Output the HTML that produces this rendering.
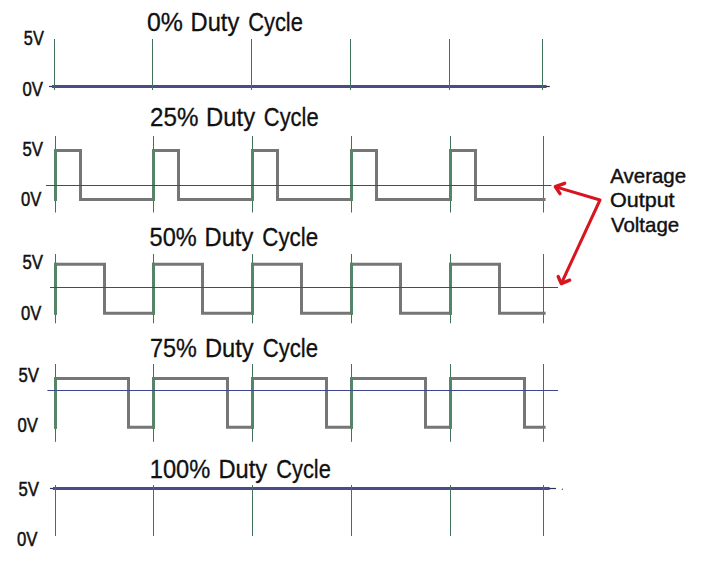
<!DOCTYPE html>
<html><head><meta charset="utf-8"><title>PWM Duty Cycle</title>
<style>
html,body{margin:0;padding:0;background:#fff;}
body{width:704px;height:564px;overflow:hidden;}
svg{display:block;}
text{font-family:"Liberation Sans", sans-serif;fill:#111;stroke:#111;}
</style></head>
<body>
<svg width="704" height="564" viewBox="0 0 704 564">
<rect width="704" height="564" fill="#fff"/>
<line x1="49" y1="86.5" x2="53" y2="86.5" stroke="#2e2f55" stroke-width="1.2" />
<line x1="52" y1="86.5" x2="546.5" y2="86.5" stroke="#494c8c" stroke-width="3" />
<line x1="546" y1="86.5" x2="549.8" y2="86.5" stroke="#2e2f55" stroke-width="1.2" />
<line x1="54.5" y1="39" x2="54.5" y2="90" stroke="#41725a" stroke-width="1" />
<line x1="152.5" y1="39" x2="152.5" y2="90" stroke="#41725a" stroke-width="1" />
<line x1="251.5" y1="39" x2="251.5" y2="90" stroke="#41725a" stroke-width="1" />
<line x1="350.5" y1="39" x2="350.5" y2="90" stroke="#41725a" stroke-width="1" />
<line x1="449.5" y1="39" x2="449.5" y2="90" stroke="#41725a" stroke-width="1" />
<line x1="542.5" y1="39" x2="542.5" y2="90" stroke="#41725a" stroke-width="1" />
<line x1="55.5" y1="136" x2="55.5" y2="212.5" stroke="#41725a" stroke-width="1" />
<line x1="153.5" y1="136" x2="153.5" y2="212.5" stroke="#41725a" stroke-width="1" />
<line x1="252.5" y1="136" x2="252.5" y2="212.5" stroke="#41725a" stroke-width="1" />
<line x1="351.5" y1="136" x2="351.5" y2="212.5" stroke="#41725a" stroke-width="1" />
<line x1="450.5" y1="136" x2="450.5" y2="212.5" stroke="#41725a" stroke-width="1" />
<line x1="543.5" y1="136" x2="543.5" y2="212.5" stroke="#41725a" stroke-width="1" />
<path d="M55.5,201.0 V150.5 H80.5 V199.5 H153.5 V150.5 H178.5 V199.5 H252.5 V150.5 H277.5 V199.5 H351.5 V150.5 H376.5 V199.5 H450.5 V150.5 H475.5 V199.5 H545.6 " fill="none" stroke="#767676" stroke-width="3" stroke-linecap="butt" stroke-linejoin="miter"/>
<line x1="56.0" y1="149.0" x2="56.0" y2="201.0" stroke="#4f8866" stroke-width="2" />
<line x1="54.5" y1="149.0" x2="54.5" y2="201.0" stroke="#5f8069" stroke-width="1" />
<line x1="154.0" y1="149.0" x2="154.0" y2="201.0" stroke="#4f8866" stroke-width="2" />
<line x1="152.5" y1="149.0" x2="152.5" y2="201.0" stroke="#5f8069" stroke-width="1" />
<line x1="253.0" y1="149.0" x2="253.0" y2="201.0" stroke="#4f8866" stroke-width="2" />
<line x1="251.5" y1="149.0" x2="251.5" y2="201.0" stroke="#5f8069" stroke-width="1" />
<line x1="352.0" y1="149.0" x2="352.0" y2="201.0" stroke="#4f8866" stroke-width="2" />
<line x1="350.5" y1="149.0" x2="350.5" y2="201.0" stroke="#5f8069" stroke-width="1" />
<line x1="451.0" y1="149.0" x2="451.0" y2="201.0" stroke="#4f8866" stroke-width="2" />
<line x1="449.5" y1="149.0" x2="449.5" y2="201.0" stroke="#5f8069" stroke-width="1" />
<line x1="46" y1="185.5" x2="551.4" y2="185.5" stroke="#3d4790" stroke-width="1.15" />
<line x1="55.5" y1="254" x2="55.5" y2="323.3" stroke="#41725a" stroke-width="1" />
<line x1="153.5" y1="254" x2="153.5" y2="323.3" stroke="#41725a" stroke-width="1" />
<line x1="252.5" y1="254" x2="252.5" y2="323.3" stroke="#41725a" stroke-width="1" />
<line x1="351.5" y1="254" x2="351.5" y2="323.3" stroke="#41725a" stroke-width="1" />
<line x1="450.5" y1="254" x2="450.5" y2="323.3" stroke="#41725a" stroke-width="1" />
<line x1="543.5" y1="254" x2="543.5" y2="323.3" stroke="#41725a" stroke-width="1" />
<path d="M55.5,314.8 V264.3 H104.5 V313.3 H153.5 V264.3 H202.5 V313.3 H252.5 V264.3 H301.5 V313.3 H351.5 V264.3 H400.5 V313.3 H450.5 V264.3 H499.5 V313.3 H545.6 " fill="none" stroke="#767676" stroke-width="3" stroke-linecap="butt" stroke-linejoin="miter"/>
<line x1="56.0" y1="262.8" x2="56.0" y2="314.8" stroke="#4f8866" stroke-width="2" />
<line x1="54.5" y1="262.8" x2="54.5" y2="314.8" stroke="#5f8069" stroke-width="1" />
<line x1="154.0" y1="262.8" x2="154.0" y2="314.8" stroke="#4f8866" stroke-width="2" />
<line x1="152.5" y1="262.8" x2="152.5" y2="314.8" stroke="#5f8069" stroke-width="1" />
<line x1="253.0" y1="262.8" x2="253.0" y2="314.8" stroke="#4f8866" stroke-width="2" />
<line x1="251.5" y1="262.8" x2="251.5" y2="314.8" stroke="#5f8069" stroke-width="1" />
<line x1="352.0" y1="262.8" x2="352.0" y2="314.8" stroke="#4f8866" stroke-width="2" />
<line x1="350.5" y1="262.8" x2="350.5" y2="314.8" stroke="#5f8069" stroke-width="1" />
<line x1="451.0" y1="262.8" x2="451.0" y2="314.8" stroke="#4f8866" stroke-width="2" />
<line x1="449.5" y1="262.8" x2="449.5" y2="314.8" stroke="#5f8069" stroke-width="1" />
<line x1="50" y1="287.5" x2="558" y2="287.5" stroke="#3d4790" stroke-width="1.15" />
<line x1="55.5" y1="364" x2="55.5" y2="441.8" stroke="#41725a" stroke-width="1" />
<line x1="153.5" y1="364" x2="153.5" y2="441.8" stroke="#41725a" stroke-width="1" />
<line x1="252.5" y1="364" x2="252.5" y2="441.8" stroke="#41725a" stroke-width="1" />
<line x1="351.5" y1="364" x2="351.5" y2="441.8" stroke="#41725a" stroke-width="1" />
<line x1="450.5" y1="364" x2="450.5" y2="441.8" stroke="#41725a" stroke-width="1" />
<line x1="543.5" y1="364" x2="543.5" y2="441.8" stroke="#41725a" stroke-width="1" />
<path d="M55.5,428.8 V378.6 H128.5 V427.3 H153.5 V378.6 H227.5 V427.3 H252.5 V378.6 H326.5 V427.3 H351.5 V378.6 H425.5 V427.3 H450.5 V378.6 H524.5 V427.3 H545.6 " fill="none" stroke="#767676" stroke-width="3" stroke-linecap="butt" stroke-linejoin="miter"/>
<line x1="56.0" y1="377.1" x2="56.0" y2="428.8" stroke="#4f8866" stroke-width="2" />
<line x1="54.5" y1="377.1" x2="54.5" y2="428.8" stroke="#5f8069" stroke-width="1" />
<line x1="154.0" y1="377.1" x2="154.0" y2="428.8" stroke="#4f8866" stroke-width="2" />
<line x1="152.5" y1="377.1" x2="152.5" y2="428.8" stroke="#5f8069" stroke-width="1" />
<line x1="253.0" y1="377.1" x2="253.0" y2="428.8" stroke="#4f8866" stroke-width="2" />
<line x1="251.5" y1="377.1" x2="251.5" y2="428.8" stroke="#5f8069" stroke-width="1" />
<line x1="352.0" y1="377.1" x2="352.0" y2="428.8" stroke="#4f8866" stroke-width="2" />
<line x1="350.5" y1="377.1" x2="350.5" y2="428.8" stroke="#5f8069" stroke-width="1" />
<line x1="451.0" y1="377.1" x2="451.0" y2="428.8" stroke="#4f8866" stroke-width="2" />
<line x1="449.5" y1="377.1" x2="449.5" y2="428.8" stroke="#5f8069" stroke-width="1" />
<line x1="47.4" y1="390.5" x2="558" y2="390.5" stroke="#3d4790" stroke-width="1.15" />
<line x1="50" y1="488.5" x2="54" y2="488.5" stroke="#2e2f55" stroke-width="1.2" />
<line x1="53" y1="488.5" x2="549.6" y2="488.5" stroke="#494c8c" stroke-width="3" />
<line x1="549" y1="488.5" x2="556" y2="488.5" stroke="#2e2f55" stroke-width="1.2" />
<line x1="55.5" y1="485" x2="55.5" y2="536" stroke="#41725a" stroke-width="1" />
<line x1="153.5" y1="485" x2="153.5" y2="536" stroke="#41725a" stroke-width="1" />
<line x1="252.5" y1="485" x2="252.5" y2="536" stroke="#41725a" stroke-width="1" />
<line x1="351.5" y1="485" x2="351.5" y2="536" stroke="#41725a" stroke-width="1" />
<line x1="450.5" y1="485" x2="450.5" y2="536" stroke="#41725a" stroke-width="1" />
<line x1="543.5" y1="485" x2="543.5" y2="536" stroke="#41725a" stroke-width="1" />
<circle cx="562.4" cy="489.3" r="0.7" fill="#555"/>
<polyline points="556.5,187.1 600,200 561.8,282.5" fill="none" stroke="#d8141f" stroke-width="3" stroke-linejoin="round" stroke-linecap="round"/>
<polyline points="564.6,183.3 555.4,186.7 560.0,193.6" fill="none" stroke="#d8141f" stroke-width="3.4" stroke-linejoin="round" stroke-linecap="round"/>
<polyline points="558.2,276.6 561.3,283.6 569.7,280.2" fill="none" stroke="#d8141f" stroke-width="3.4" stroke-linejoin="round" stroke-linecap="round"/>
<text transform="translate(146.98,30.60) scale(0.9952,1)" font-size="25.0" stroke-width="0.3">0%</text>
<text transform="translate(190.61,30.60) scale(0.9472,1)" font-size="25.0" stroke-width="0.3">Duty</text>
<text transform="translate(248.14,30.60) scale(0.8764,1)" font-size="25.0" stroke-width="0.3">Cycle</text>
<text transform="translate(150.03,125.60) scale(0.9668,1)" font-size="25.0" stroke-width="0.3">25%</text>
<text transform="translate(206.09,125.60) scale(0.9553,1)" font-size="25.0" stroke-width="0.3">Duty</text>
<text transform="translate(263.84,125.60) scale(0.8764,1)" font-size="25.0" stroke-width="0.3">Cycle</text>
<text transform="translate(149.61,245.50) scale(0.9430,1)" font-size="25.0" stroke-width="0.3">50%</text>
<text transform="translate(204.61,245.50) scale(0.9472,1)" font-size="25.0" stroke-width="0.3">Duty</text>
<text transform="translate(262.32,245.50) scale(0.8930,1)" font-size="25.0" stroke-width="0.3">Cycle</text>
<text transform="translate(149.95,356.80) scale(0.9360,1)" font-size="25.0" stroke-width="0.3">75%</text>
<text transform="translate(205.01,356.80) scale(0.9472,1)" font-size="25.0" stroke-width="0.3">Duty</text>
<text transform="translate(262.72,356.80) scale(0.8864,1)" font-size="25.0" stroke-width="0.3">Cycle</text>
<text transform="translate(149.75,477.70) scale(0.9469,1)" font-size="25.0" stroke-width="0.3">100%</text>
<text transform="translate(218.51,477.70) scale(0.9472,1)" font-size="25.0" stroke-width="0.3">Duty</text>
<text transform="translate(276.24,477.70) scale(0.8747,1)" font-size="25.0" stroke-width="0.3">Cycle</text>
<text transform="translate(23.79,44.60) scale(0.8354,1)" font-size="19.6" stroke-width="0.5">5V</text>
<text transform="translate(22.40,95.60) scale(0.8520,1)" font-size="19.6" stroke-width="0.5">0V</text>
<text transform="translate(22.38,155.60) scale(0.8570,1)" font-size="19.6" stroke-width="0.5">5V</text>
<text transform="translate(21.00,206.40) scale(0.8477,1)" font-size="19.6" stroke-width="0.5">0V</text>
<text transform="translate(22.38,268.50) scale(0.8570,1)" font-size="19.6" stroke-width="0.5">5V</text>
<text transform="translate(21.00,319.60) scale(0.8477,1)" font-size="19.6" stroke-width="0.5">0V</text>
<text transform="translate(18.38,381.70) scale(0.8570,1)" font-size="19.6" stroke-width="0.5">5V</text>
<text transform="translate(17.40,432.40) scale(0.8520,1)" font-size="19.6" stroke-width="0.5">0V</text>
<text transform="translate(18.38,495.60) scale(0.8570,1)" font-size="19.6" stroke-width="0.5">5V</text>
<text transform="translate(16.99,546.40) scale(0.8563,1)" font-size="19.6" stroke-width="0.5">0V</text>
<text transform="translate(610.26,182.50) scale(1.0236,1)" font-size="20.0" stroke-width="0.4">Average</text>
<text transform="translate(609.98,206.60) scale(1.0773,1)" font-size="20.0" stroke-width="0.4">Output</text>
<text transform="translate(610.91,231.80) scale(1.0231,1)" font-size="20.0" stroke-width="0.4">Voltage</text>
</svg>
</body></html>
